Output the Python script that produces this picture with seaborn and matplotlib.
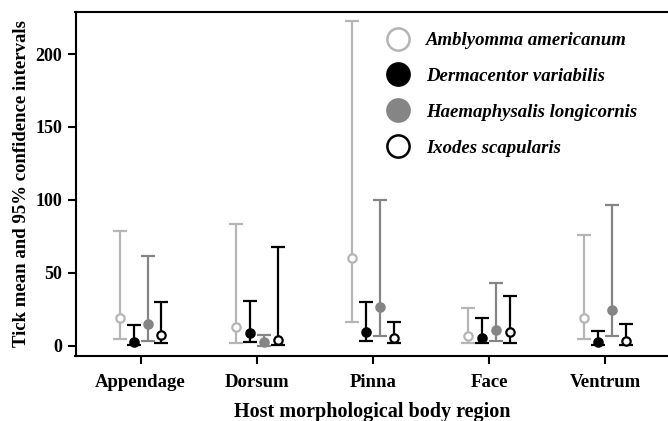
import matplotlib
matplotlib.use("Agg")
import matplotlib.pyplot as plt
import seaborn as sns
import numpy as np
import pandas as pd
from matplotlib.lines import Line2D

regions = ["Appendage", "Dorsum", "Pinna", "Face", "Ventrum"]
species = ["Amblyomma americanum", "Dermacentor variabilis",
           "Haemaphysalis longicornis", "Ixodes scapularis"]

amb_mean = [18.9, 12.9, 59.9, 6.5, 19.1]
amb_low = [4.5, 2.0, 16.3, 2.0, 4.5]
amb_high = [78.8, 83.4, 222.4, 25.5, 75.9]

der_mean = [2.6, 8.4, 9.5, 4.9, 2.6]
der_low = [0.3, 2.6, 3.3, 1.5, 0.3]
der_high = [14.0, 30.6, 30.0, 19.1, 10.2]

hae_mean = [14.8, 2.6, 26.7, 10.6, 24.4]
hae_low = [3.3, 0.0, 6.5, 3.1, 6.5]
hae_high = [61.5, 7.2, 99.9, 42.7, 96.5]

ixo_mean = [7.2, 3.8, 5.4, 9.0, 3.1]
ixo_low = [2.0, 0.3, 1.5, 2.0, 0.3]
ixo_high = [30.0, 67.9, 15.9, 34.2, 14.8]

rows = []
for sp, m, lo, hi in zip(species,
                         [amb_mean, der_mean, hae_mean, ixo_mean],
                         [amb_low, der_low, hae_low, ixo_low],
                         [amb_high, der_high, hae_high, ixo_high]):
    for r, a, b, c in zip(regions, m, lo, hi):
        rows.append(dict(region=r, species=sp, mean=a, low=b, high=c))
df = pd.DataFrame(rows)

sns.set_theme(style="ticks")
plt.rcParams['font.family'] = ['Liberation Serif', 'DejaVu Serif']
plt.rcParams['font.weight'] = 'bold'
plt.rcParams['text.color'] = 'black'
plt.rcParams['axes.labelcolor'] = 'black'

fig = plt.figure(figsize=(6.68, 4.21), dpi=100)
ax = fig.add_axes([75.5/668, 1-356/421, 1-75.5/668, (356-11.5)/421])

styles = {
    "Amblyomma americanum": dict(ec="#b5b5b5", fc="white", line="#b5b5b5"),
    "Dermacentor variabilis": dict(ec="black", fc="black", line="black"),
    "Haemaphysalis longicornis": dict(ec="#858585", fc="#858585", line="#858585"),
    "Ixodes scapularis": dict(ec="black", fc="white", line="black"),
}
offsets = [-0.18, -0.06, 0.06, 0.18]
xpos = {r: i for i, r in enumerate(regions)}

for sp, off in zip(species, offsets):
    d = df[df.species == sp]
    x = np.array([xpos[r] for r in d.region]) + off
    st = styles[sp]
    yerr = np.vstack([d["mean"] - d["low"], d["high"] - d["mean"]])
    ax.errorbar(x, d["mean"], yerr=yerr, fmt="none", ecolor=st["line"],
                elinewidth=1.6, capsize=5, capthick=1.6, zorder=2)
    ax.plot(x, d["mean"], "o", ms=6, mfc=st["fc"], mec=st["ec"], mew=1.6,
            zorder=3, linestyle="none")

ax.set_xlim(-0.56, 4.54)
ax.set_ylim(-7.2, 229.2)
ax.set_xticks(range(len(regions)))
ax.set_xticklabels(regions, fontsize=13.5, fontweight="bold")
ax.set_yticks([0, 50, 100, 150, 200])
ax.set_yticklabels(["0", "50", "100", "150", "200"], fontsize=13, fontweight="bold")
ax.tick_params(axis="both", direction="out", length=6, width=1.5, color="black",
               labelcolor="black")
ax.tick_params(axis="x", pad=7)
for s in ["left", "bottom", "top"]:
    ax.spines[s].set_linewidth(1.5)
    ax.spines[s].set_color("black")
ax.spines["right"].set_visible(False)
ax.set_xlabel("Host morphological body region", fontsize=14.5, fontweight="bold",
              labelpad=8, color="black")
ax.set_ylabel("Tick mean and 95% confidence intervals", fontsize=13.5,
              fontweight="bold", labelpad=4, color="black")

handles = [Line2D([], [], linestyle="none", marker="o", ms=16,
                  mfc=styles[sp]["fc"], mec=styles[sp]["ec"], mew=1.8)
           for sp in species]
leg = fig.legend(handles, species, loc="upper left",
                 bbox_to_anchor=(384/668, 1-32/421), frameon=False,
                 prop=dict(family="Liberation Serif", weight="bold",
                           style="italic", size=13.5),
                 labelspacing=1.0, handletextpad=0.75, borderpad=0,
                 borderaxespad=0, handlelength=1.5, labelcolor="black")

fig.savefig("out.png", dpi=100)
